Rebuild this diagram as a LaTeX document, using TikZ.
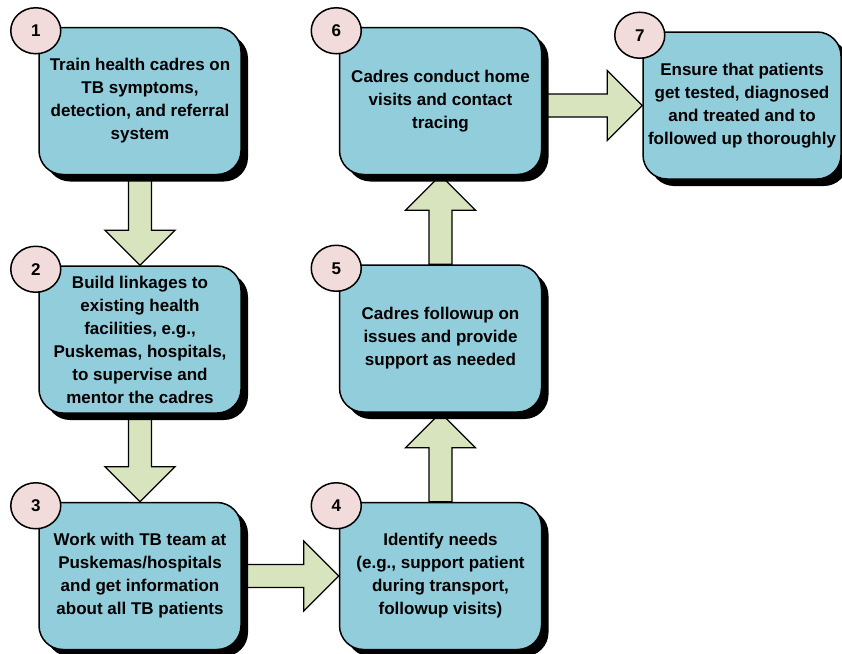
\documentclass[tikz,border=0pt]{standalone}
\usepackage{fontspec}
\setmainfont{Liberation Sans}
\usetikzlibrary{positioning,shapes.geometric,shadows,backgrounds,calc}

\definecolor{boxblue}{HTML}{92CDDC}
\definecolor{numpink}{HTML}{F2DCDB}
\definecolor{arrowgreen}{HTML}{D7E4BD}

% block arrow from #1 to #2, one closed outline
\newcommand\fatarrow[2]{%
  \draw[flowarrow] let \p1=(#1), \p2=(#2),
    \n1={atan2(\y2-\y1,\x2-\x1)}, \n2={veclen(\x2-\x1,\y2-\y1)} in
    [shift={(\p1)},rotate=\n1]
    (0,11.5) -- (\n2-35,11.5) -- (\n2-35,35) -- (\n2,0)
    -- (\n2-35,-35) -- (\n2-35,-11.5) -- (0,-11.5) -- cycle;}

\begin{document}
\begin{tikzpicture}[x=1pt,y=-1pt,
    stepbox/.style={rectangle, rounded corners=24pt, draw, line width=1.5pt,
      fill=boxblue, minimum width=202pt, minimum height=147pt, align=center,
      inner sep=2pt, font=\fontsize{17}{23}\selectfont\bfseries,
      drop shadow={shadow xshift=7pt, shadow yshift=-7pt, fill=black, opacity=1}},
    stepnum/.style={ellipse, draw, line width=1.5pt, fill=numpink,
      minimum width=50pt, minimum height=46pt, inner sep=0pt,
      font=\fontsize{17}{20}\selectfont\bfseries},
    flowarrow/.style={draw, line width=1.3pt, fill=arrowgreen, line join=miter}]
  \useasboundingbox (0,0) rectangle (842,653);

  \node[stepbox] (b1) at (140,101)
    {Train health cadres on\\TB symptoms,\\detection, and referral\\system};
  \node[stepbox, below=90pt of b1] (b2)
    {Build linkages to\\existing health\\facilities, e.g.,\\Puskemas, hospitals,\\to supervise and\\mentor the cadres};
  \node[stepbox, below=88pt of b2] (b3)
    {Work with TB team at\\Puskemas/hospitals\\and get information\\about all TB patients};
  \node[stepbox, right=97pt of b3] (b4)
    {Identify needs\\(e.g., support patient\\during transport,\\followup visits)};
  \node[stepbox, above=89pt of b4] (b5)
    {Cadres followup on\\issues and provide\\support as needed};
  \node[stepbox, above=89pt of b5] (b6)
    {Cadres conduct home\\visits and contact\\tracing};
  \node[stepbox, right=100pt of b6, yshift=-4.5pt, minimum width=198pt] (b7)
    {Ensure that patients\\get tested, diagnosed\\and treated and to\\followed up thoroughly};

  \foreach \i in {1,...,7}
    \node[stepnum] (n\i) at ([shift={(-2.5pt,-4pt)}]b\i.north west) {\i};

  \begin{scope}[on background layer]
    \fatarrow{b1.south}{b2.north}
    \fatarrow{b2.south}{b3.north}
    \fatarrow{b3.east}{b4.west}
    \fatarrow{b4.north}{b5.south}
    \fatarrow{b5.north}{b6.south}
    \fatarrow{b6.east |- b7.west}{b7.west}
  \end{scope}
\end{tikzpicture}
\end{document}
